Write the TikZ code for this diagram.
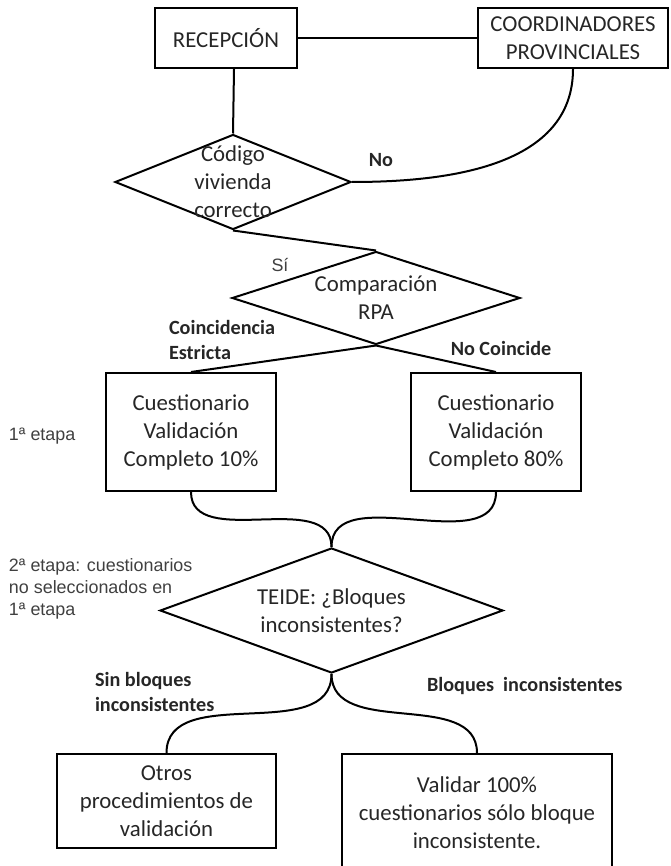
\documentclass[tikz,border=0pt]{standalone}
\usepackage{fontspec}
\setmainfont{Carlito}
\newfontfamily\arialfont{Liberation Sans}
\usepackage{xcolor}
\usepackage{tikz}
\usetikzlibrary{shapes.geometric}
\definecolor{fcink}{HTML}{262626}
\definecolor{fcnote}{HTML}{404040}

\begin{document}
\begin{tikzpicture}[
  x=1pt, y=-1pt, line width=2pt,
  box/.style={draw=black, rectangle, align=center, text=fcink,
    font=\fontsize{22.8}{28}\selectfont, inner sep=0pt},
  choice/.style={draw=black, diamond, inner sep=0pt},
  choicetext/.style={align=center, text=fcink, inner sep=0pt,
    font=\fontsize{22.8}{28}\selectfont},
  answer/.style={align=left, text=fcink, inner sep=0pt,
    font=\fontsize{20.2}{25}\selectfont\bfseries},
  stage/.style={align=left, text=fcnote, inner sep=0pt, anchor=west,
    font=\arialfont\fontsize{17.9}{22}\selectfont},
  link/.style={draw=black, line width=2pt},
  ]
  \useasboundingbox (0,0) rectangle (670,866);
  \clip (0,0) rectangle (670,866);
  \node[box, minimum width=142, minimum height=60] (recep) at (226,38) {RECEPCIÓN};
  \node[box, minimum width=190, minimum height=60] (coord) at (573,38) {COORDINADORES\\PROVINCIALES};
  \node[choice, minimum width=236, minimum height=95] (cod) at (233,182) {};
  \node[choicetext] (codt) at (cod) {Código\\vivienda\\correcto};
  \node[choice, minimum width=288, minimum height=93] (rpa) at (376,298) {};
  \node[choicetext] (rpat) at (rpa) {Comparación\\RPA};
  \node[box, minimum width=170, minimum height=118] (c10) at (191,432)
    {Cuestionario\\Validación\\Completo 10\%};
  \node[box, minimum width=170, minimum height=118] (c80) at (496,432)
    {Cuestionario\\Validación\\Completo 80\%};
  \node[choice, minimum width=343, minimum height=125] (teide) at (331.5,610.5) {};
  \node[choicetext] (teidet) at (teide) {TEIDE: ¿Bloques\\inconsistentes?};
  \node[box, minimum width=219, minimum height=94] (otros) at (166.5,801)
    {Otros\\procedimientos de\\validación};
  \node[box, minimum width=270, minimum height=118] (valid) at (477,813)
    {Validar 100\%\\cuestionarios sólo bloque\\inconsistente.};

  \draw[link] (recep) -- (coord);
  \draw[link] ([xshift=8]recep.south) -- (cod.north);
  \draw[link] (coord.south) to[out=-90,in=0] (cod.east);
  \draw[link] (cod.south) -- (rpa.north);
  \draw[link] (rpa.south) -- (c10.north);
  \draw[link] (rpa.south) -- (c80.north);
  \draw[link] (c10.south) to[out=-90,in=90] (teide.north);
  \draw[link] (c80.south) to[out=-90,in=90] (teide.north);
  \draw[link] (teide.south) to[out=-90,in=90] (otros.north);
  \draw[link] (teide.south) to[out=-90,in=90] (valid.north);

  \node[answer] (no) at (381,160) {No};
  \node[stage, anchor=center] (si) at (280,265) {Sí};
  \node[answer, anchor=west] (coin) at (168,340) {Coincidencia\\Estricta};
  \node[answer] (nocoin) at (501,348) {No Coincide};
  \node[stage] (etapa1) at (8,436) {1ª etapa};
  \node[stage] (etapa2) at (8,589) {2ª etapa: cuestionarios\\no seleccionados en\\1ª etapa};
  \node[answer, anchor=west] (sinb) at (94,692) {Sin bloques\\inconsistentes};
  \node[answer, anchor=west] (conb) at (426,686) {Bloques\ \ inconsistentes};
\end{tikzpicture}
\end{document}
